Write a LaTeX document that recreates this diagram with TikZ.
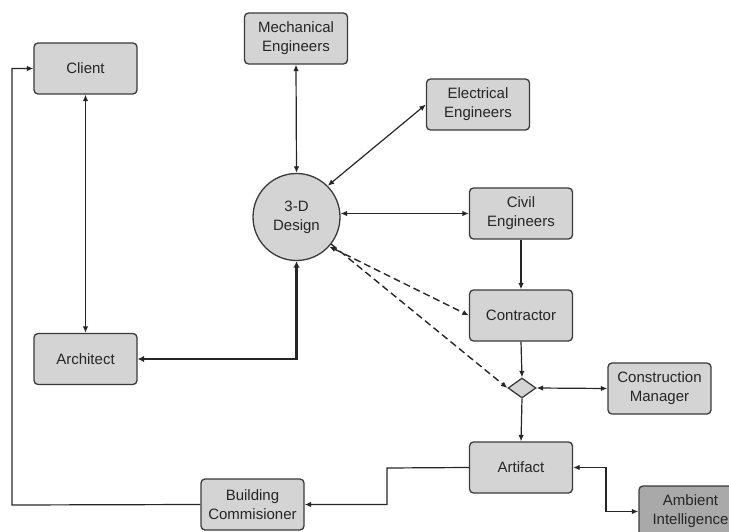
\documentclass[tikz,border=0pt]{standalone}
\usepackage{fontspec}
\setmainfont{Liberation Sans}
\usetikzlibrary{arrows.meta,shapes.geometric}
\definecolor{boxfill}{HTML}{D4D4D4}
\definecolor{boxdark}{HTML}{A9A9A9}
\definecolor{edge}{HTML}{3A3A3A}
\begin{document}
\begin{tikzpicture}[x=1pt,y=-1pt,
  box/.style={draw=edge,fill=boxfill,rounded corners=4pt,line width=1.3pt,
    minimum width=103pt,minimum height=51pt,align=center,inner sep=1pt,
    font=\fontsize{15}{19}\selectfont,text=black!85},
  conn/.style={line width=1.2pt,black!85,>={Latex[length=6.5pt,width=5.5pt]}},
  thickconn/.style={conn,line width=2.6pt,>={Latex[length=6.5pt,width=6.5pt]}},
  dashconn/.style={conn,dash pattern=on 7pt off 4pt,line width=1.4pt}]
\useasboundingbox (0,0) rectangle (729,532);
\node[box] (client) at (85.5,68.5) {Client};
\node[box] (mech) at (296,38.5) {Mechanical\\Engineers};
\node[box] (elec) at (478,104.5) {Electrical\\Engineers};
\node[circle,draw=edge,fill=boxfill,line width=1.3pt,minimum size=87pt,inner sep=0pt,
  align=center,font=\fontsize{15}{19}\selectfont,text=black!85] (d3) at (296.5,217) {3-D\\Design};
\node[box] (civil) at (521,213.5) {Civil\\Engineers};
\node[box] (contr) at (521,315.5) {Contractor};
\node[diamond,draw=edge,fill=boxfill,line width=1.3pt,minimum width=28pt,minimum height=20pt,inner sep=0pt] (dia) at (522,388) {};
\node[box] (cm) at (659.5,388.5) {Construction\\Manager};
\node[box] (art) at (521,467.5) {Artifact};
\node[box,fill=boxdark] (amb) at (690.5,511.5) {Ambient\\Intelligence};
\node[box] (arch) at (85.5,359) {Architect};
\node[box] (bc) at (252.5,504.5) {Building\\Commisioner};

\coordinate (lc) at (12,505);
\coordinate (ab) at (387,468);
\coordinate (ar) at (606,511.5);

\draw[conn,<->] (client.south) -- (arch.north);
\draw[conn,->] (bc.west) -- (lc) |- (client.west);
\draw[conn,<->] (mech.south) -- (d3.north);
\draw[conn,<->] (d3.45) -- (elec.west);
\draw[conn,<->] (civil.west -| d3.east) -- (civil.west);
\draw[conn,->] (civil.south) -- (contr.north);
\draw[dashconn,<->] (d3.-42) -- (contr.west);
\draw[dashconn,->] (d3.-38) -- (dia.west);
\draw[conn,->] (contr.south) -- (dia.north);
\draw[conn,<->] (dia.east) -- (cm.west);
\draw[conn,->] (dia.south) -- (art.north);
\draw[conn,<->] (art.east) -| (ar) -- (amb.west);
\draw[conn,->] (art.west) -- (ab) |- (bc.east);
\draw[thickconn,<->] (d3.south) |- (arch.east);
\end{tikzpicture}
\end{document}
